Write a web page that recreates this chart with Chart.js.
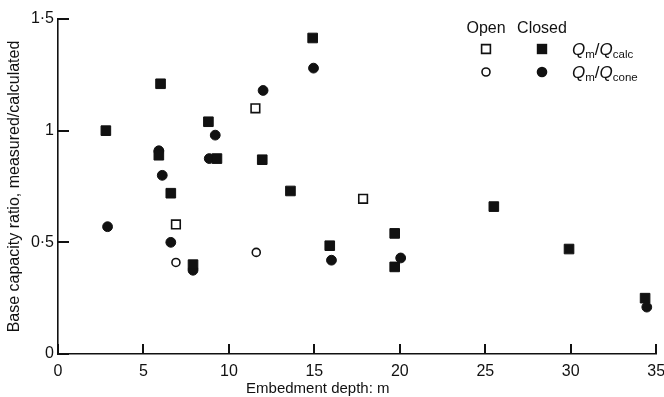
<!DOCTYPE html>
<html>
<head>
<meta charset="utf-8">
<script src="https://cdn.jsdelivr.net/npm/chart.js@4.4.1/dist/chart.umd.min.js"></script>
<style>
  html, body { margin: 0; padding: 0; background: #fff; }
  #wrap { width: 664px; height: 397px; position: relative; }
</style>
</head>
<body>
<div id="wrap"><canvas id="myChart"></canvas></div>
<script>
// depth (m) and base capacity ratio
const openCalcDepth = [6.9, 11.55, 17.85];
const openCalcRatio = [0.58, 1.10, 0.695];
const closedCalcDepth = [2.8, 5.9, 6.0, 6.6, 7.9, 8.8, 9.3, 11.95, 13.6, 14.9, 15.9, 19.7, 19.7, 25.5, 29.9, 34.35];
const closedCalcRatio = [1.0, 0.89, 1.21, 0.72, 0.40, 1.04, 0.875, 0.87, 0.73, 1.415, 0.485, 0.54, 0.39, 0.66, 0.47, 0.25];
const openConeDepth = [6.9, 11.6];
const openConeRatio = [0.41, 0.455];
const closedConeDepth = [2.9, 5.9, 6.1, 6.6, 7.9, 8.85, 9.2, 12.0, 14.95, 16.0, 20.05, 34.45];
const closedConeRatio = [0.57, 0.91, 0.80, 0.50, 0.375, 0.875, 0.98, 1.18, 1.28, 0.42, 0.43, 0.21];

const depthTicks = [0, 5, 10, 15, 20, 25, 30, 35];
const ratioTicks = [0, 0.5, 1, 1.5];
const ratioTickLabels = ["0", "0·5", "1", "1·5"];

const FONT = "'Liberation Sans', Arial, Helvetica, sans-serif";
const INK = "#111";

const toPoints = (xs, ys) => xs.map((x, i) => ({ x: x, y: ys[i] }));

// short tick marks pointing into the plot
const drawInwardTicks = (chart) => {
  const c = chart.ctx;
  const left = chart.chartArea.left;
  const bottom = chart.chartArea.bottom;
  c.save();
  c.fillStyle = INK;
  depthTicks.forEach((v) => {
    const px = Math.round(chart.scales.x.getPixelForValue(v));
    c.fillRect(px - 1, bottom - 10, 2, 10);
  });
  ratioTicks.forEach((v) => {
    const py = Math.round(chart.scales.y.getPixelForValue(v));
    c.fillRect(left, py - 1, 11, 2);
  });
  c.restore();
};

const drawMarker = (c, shape, filled, x, y) => {
  c.beginPath();
  if (shape === "rect") {
    const h = filled ? 5.2 : 4.4;
    c.rect(x - h, y - h, h * 2, h * 2);
  } else {
    c.arc(x, y, filled ? 5.3 : 4, 0, Math.PI * 2);
  }
  if (filled) {
    c.fillStyle = INK;
    c.fill();
  } else {
    c.fillStyle = "#fff";
    c.fill();
    c.lineWidth = 1.6;
    c.strokeStyle = INK;
    c.stroke();
  }
};

// Q_m / Q_sub with italic Q and lowered subscripts
const drawRatioLabel = (c, sub, x, baseline) => {
  const parts = [
    { t: "Q", font: `italic 17px ${FONT}`, dy: 0 },
    { t: "m", font: `11.5px ${FONT}`, dy: 2.5 },
    { t: "/", font: `17px ${FONT}`, dy: 0 },
    { t: "Q", font: `italic 17px ${FONT}`, dy: 0 },
    { t: sub, font: `11.5px ${FONT}`, dy: 2.5 },
  ];
  c.textAlign = "left";
  c.textBaseline = "alphabetic";
  c.fillStyle = INK;
  let cx = x;
  for (const p of parts) {
    c.font = p.font;
    c.fillText(p.t, cx, baseline + p.dy);
    cx += c.measureText(p.t).width;
  }
};

const extras = {
  id: "extras",
  afterDraw(chart) {
    drawInwardTicks(chart);

    const c = chart.ctx;
    c.save();
    c.fillStyle = INK;
    c.font = `16px ${FONT}`;
    c.textAlign = "center";
    c.textBaseline = "middle";
    c.fillText("Open", 486, 29);
    c.fillText("Closed", 542, 29);

    drawMarker(c, "rect", false, 486, 49);
    drawMarker(c, "rect", true, 542, 49);
    drawMarker(c, "circle", false, 486, 72);
    drawMarker(c, "circle", true, 542, 72);
    drawRatioLabel(c, "calc", 572, 55);
    drawRatioLabel(c, "cone", 572, 78);

    // x axis title sits left of centre in the original
    c.font = `15px ${FONT}`;
    c.textAlign = "center";
    c.textBaseline = "middle";
    c.fillStyle = INK;
    c.fillText("Embedment depth: m", chart.scales.x.getPixelForValue(15.2), 389);
    c.restore();
  },
};

Chart.defaults.font.family = FONT;
Chart.defaults.color = INK;

const ctx = document.querySelector("#myChart").getContext("2d");

const scatterChart = new Chart(ctx, {
  type: "scatter",
  data: {
    datasets: [
      {
        label: "Closed, Qm/Qcalc",
        data: toPoints(closedCalcDepth, closedCalcRatio),
        pointStyle: "rect",
        pointRadius: 6.8,
        backgroundColor: INK,
        borderColor: INK,
        borderWidth: 1,
      },
      {
        label: "Closed, Qm/Qcone",
        data: toPoints(closedConeDepth, closedConeRatio),
        pointStyle: "circle",
        pointRadius: 4.9,
        backgroundColor: INK,
        borderColor: INK,
        borderWidth: 1,
      },
      {
        label: "Open, Qm/Qcalc",
        data: toPoints(openCalcDepth, openCalcRatio),
        pointStyle: "rect",
        pointRadius: 6.1,
        backgroundColor: "#fff",
        borderColor: INK,
        borderWidth: 1.6,
      },
      {
        label: "Open, Qm/Qcone",
        data: toPoints(openConeDepth, openConeRatio),
        pointStyle: "circle",
        pointRadius: 4,
        backgroundColor: "#fff",
        borderColor: INK,
        borderWidth: 1.6,
      },
    ],
  },
  options: {
    responsive: true,
    maintainAspectRatio: false,
    animation: false,
    layout: { padding: { top: 19, right: 3, left: 0, bottom: 0 } },
    plugins: {
      legend: { display: false },
      tooltip: { enabled: false },
    },
    scales: {
      x: {
        type: "linear",
        min: 0,
        max: 35,
        afterBuildTicks: (axis) => {
          axis.ticks = depthTicks.map((v) => ({ value: v }));
        },
        afterFit: (axis) => {
          axis.height = 43;
          axis.paddingLeft = 0;
          axis.paddingRight = 0;
        },
        grid: { display: false, drawTicks: false },
        border: { display: true, color: INK, width: 1.6 },
        ticks: {
          padding: 8,
          maxRotation: 0,
          font: { size: 16 },
          color: INK,
        },
      },
      y: {
        type: "linear",
        min: 0,
        max: 1.5,
        afterBuildTicks: (axis) => {
          axis.ticks = ratioTicks.map((v) => ({ value: v }));
        },
        afterFit: (axis) => {
          axis.width = 58;
          axis.paddingTop = 0;
          axis.paddingBottom = 0;
        },
        grid: { display: false, drawTicks: false },
        border: { display: true, color: INK, width: 1.6 },
        ticks: {
          padding: 4,
          font: { size: 16 },
          color: INK,
          callback: (value) => ratioTickLabels[ratioTicks.indexOf(value)],
        },
        title: {
          display: true,
          text: "Base capacity ratio, measured/calculated",
          font: { size: 16 },
          color: INK,
          padding: { top: 5, bottom: 0 },
        },
      },
    },
  },
  plugins: [extras],
});
</script>
</body>
</html>
